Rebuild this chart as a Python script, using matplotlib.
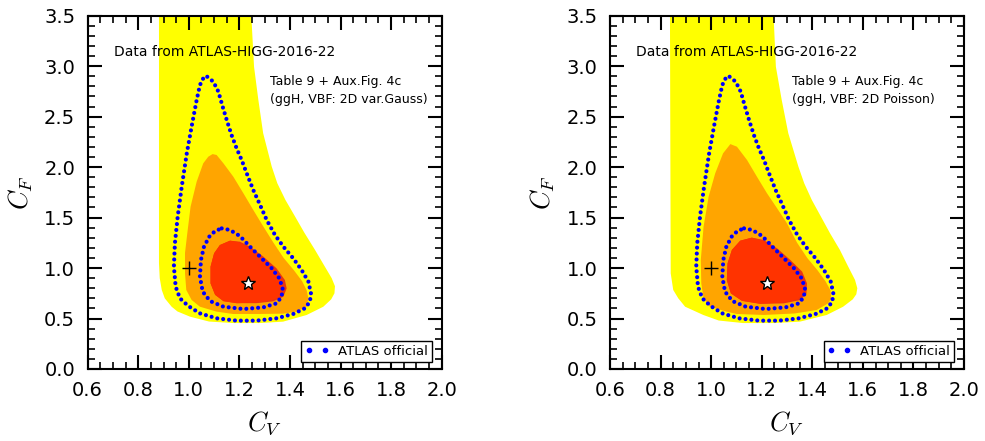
import matplotlib
matplotlib.use("Agg")
import matplotlib.pyplot as plt
from matplotlib.patches import Polygon
from matplotlib.lines import Line2D
from matplotlib.ticker import MultipleLocator

plt.rcParams['mathtext.fontset'] = 'cm'
plt.rcParams['font.family'] = ['DejaVu Sans']

# ---------------- data (CV, CF) ----------------
# ATLAS official contours (same in both panels)
atlas_2s_cv = [1.073, 1.097, 1.117, 1.134, 1.150, 1.169, 1.189, 1.209, 1.229, 1.255, 1.282, 1.308,
               1.341, 1.374, 1.413, 1.446, 1.473, 1.483, 1.479, 1.459, 1.413, 1.347, 1.268, 1.189,
               1.110, 1.044, 0.998, 0.965, 0.948, 0.941, 0.945, 0.956, 0.972, 0.992, 1.011, 1.031,
               1.044, 1.057, 1.073]
atlas_2s_cf = [2.895, 2.846, 2.747, 2.598, 2.466, 2.318, 2.186, 2.070, 1.938, 1.773, 1.624, 1.476,
               1.327, 1.212, 1.096, 0.981, 0.865, 0.749, 0.667, 0.601, 0.545, 0.502, 0.479, 0.479,
               0.502, 0.551, 0.624, 0.700, 0.815, 1.014, 1.245, 1.509, 1.806, 2.136, 2.400, 2.664,
               2.813, 2.879, 2.895]
atlas_1s_cv = [1.130, 1.163, 1.202, 1.242, 1.288, 1.328, 1.358, 1.371, 1.367, 1.347, 1.295, 1.216,
               1.137, 1.084, 1.055, 1.044, 1.048, 1.060, 1.081, 1.104, 1.130]
atlas_1s_cf = [1.393, 1.377, 1.317, 1.212, 1.096, 0.997, 0.898, 0.799, 0.716, 0.650, 0.611, 0.594,
               0.617, 0.673, 0.766, 0.914, 1.080, 1.212, 1.311, 1.367, 1.393]

# Left panel: 2D var.Gauss
gauss_3s_cv = [0.882, 1.245, 1.258, 1.275, 1.294, 1.328, 1.350, 1.382, 1.418, 1.457, 1.499, 1.538,
               1.565, 1.578, 1.576, 1.563, 1.532, 1.466, 1.373, 1.280, 1.176, 1.080, 1.005, 0.955,
               0.932, 0.905, 0.893, 0.885, 0.882]
gauss_3s_cf = [3.6, 3.6, 2.994, 2.666, 2.336, 2.005, 1.840, 1.675, 1.520, 1.350, 1.180, 1.014,
               0.900, 0.820, 0.750, 0.690, 0.617, 0.535, 0.469, 0.455, 0.455, 0.470, 0.518, 0.570,
               0.617, 0.700, 0.783, 0.900, 1.050]
gauss_2s_cv = [1.094, 1.110, 1.137, 1.176, 1.216, 1.255, 1.295, 1.335, 1.375, 1.415, 1.448, 1.466,
               1.473, 1.466, 1.426, 1.373, 1.275, 1.175, 1.110, 1.044, 1.011, 0.990, 0.985, 0.985,
               0.994, 1.007, 1.031, 1.057, 1.077]
gauss_2s_cf = [2.129, 2.120, 2.037, 1.905, 1.740, 1.575, 1.410, 1.250, 1.100, 0.980, 0.870, 0.780,
               0.700, 0.617, 0.568, 0.548, 0.545, 0.545, 0.568, 0.617, 0.684, 0.783, 0.948, 1.150,
               1.344, 1.608, 1.855, 2.037, 2.103]
gauss_1s_edge_cv = [1.163, 1.202, 1.242, 1.295, 1.347, 1.380, 1.387, 1.374, 1.334, 1.268, 1.189,
                    1.137, 1.104, 1.086, 1.086, 1.100, 1.123]
gauss_1s_edge_cf = [1.271, 1.261, 1.212, 1.113, 0.997, 0.881, 0.799, 0.716, 0.670, 0.652, 0.652,
                    0.672, 0.735, 0.848, 1.014, 1.146, 1.228]
gauss_1s_cv = [1.163, 1.198, 1.234, 1.284, 1.333, 1.366, 1.374, 1.363, 1.326, 1.265, 1.189, 1.137,
               1.104, 1.086, 1.086, 1.100, 1.123]
gauss_1s_cf = [1.271, 1.256, 1.206, 1.110, 0.997, 0.883, 0.800, 0.722, 0.679, 0.658, 0.652, 0.672,
               0.735, 0.848, 1.014, 1.146, 1.228]
gauss_best = (1.235, 0.848)

# Right panel: 2D Poisson
pois_3s_cv = [0.837, 1.245, 1.256, 1.279, 1.305, 1.345, 1.368, 1.398, 1.434, 1.470, 1.509, 1.542,
              1.569, 1.578, 1.574, 1.560, 1.522, 1.457, 1.351, 1.250, 1.126, 1.030, 0.969, 0.897,
              0.870, 0.850, 0.840]
pois_3s_cf = [3.6, 3.6, 2.994, 2.666, 2.336, 2.005, 1.840, 1.675, 1.510, 1.345, 1.180, 1.014,
              0.882, 0.800, 0.740, 0.690, 0.617, 0.535, 0.469, 0.455, 0.455, 0.480, 0.535, 0.617,
              0.700, 0.783, 0.948]
pois_2s_cv = [1.076, 1.102, 1.142, 1.181, 1.221, 1.261, 1.300, 1.340, 1.380, 1.420, 1.452, 1.472,
              1.475, 1.463, 1.417, 1.330, 1.208, 1.102, 1.061, 0.995, 0.970, 0.961, 0.959, 0.970,
              0.990, 1.016, 1.047]
pois_2s_cf = [2.228, 2.202, 2.070, 1.905, 1.740, 1.591, 1.443, 1.250, 1.100, 0.980, 0.870, 0.780,
              0.700, 0.650, 0.584, 0.550, 0.535, 0.545, 0.568, 0.617, 0.700, 0.848, 1.080, 1.410,
              1.707, 1.938, 2.136]
pois_1s_edge_cv = [1.161, 1.208, 1.261, 1.313, 1.360, 1.379, 1.377, 1.353, 1.287, 1.194, 1.122,
                   1.078, 1.062, 1.065, 1.082, 1.115]
pois_1s_edge_cf = [1.301, 1.278, 1.195, 1.080, 0.964, 0.848, 0.749, 0.683, 0.650, 0.645, 0.675,
                   0.749, 0.881, 1.047, 1.179, 1.271]
pois_1s_cv = [1.161, 1.203, 1.253, 1.302, 1.347, 1.366, 1.365, 1.343, 1.282, 1.194, 1.122, 1.078,
              1.062, 1.065, 1.082, 1.115]
pois_1s_cf = [1.301, 1.273, 1.190, 1.077, 0.964, 0.850, 0.755, 0.692, 0.658, 0.647, 0.675, 0.749,
              0.881, 1.047, 1.179, 1.271]
pois_best = (1.221, 0.848)

sm_point = (1.0, 1.0)

panels = [
    dict(s3=(gauss_3s_cv, gauss_3s_cf), s2=(gauss_2s_cv, gauss_2s_cf),
         edge=(gauss_1s_edge_cv, gauss_1s_edge_cf), s1=(gauss_1s_cv, gauss_1s_cf),
         best=gauss_best, note="(ggH, VBF: 2D var.Gauss)"),
    dict(s3=(pois_3s_cv, pois_3s_cf), s2=(pois_2s_cv, pois_2s_cf),
         edge=(pois_1s_edge_cv, pois_1s_edge_cf), s1=(pois_1s_cv, pois_1s_cf),
         best=pois_best, note="(ggH, VBF: 2D Poisson)"),
]

YELLOW = '#ffff00'
ORANGE = '#ffa500'
DARKRED = '#ea3510'
RED = '#ff3300'
BLUE = '#0000ff'

fig = plt.figure(figsize=(9.85, 4.41), dpi=100)
lefts = [0.0890, 0.6193]

for left, p in zip(lefts, panels):
    ax = fig.add_axes([left, 0.1633, 0.3594, 0.8011])
    for (cv, cf), col in [(p['s3'], YELLOW), (p['s2'], ORANGE), (p['edge'], DARKRED), (p['s1'], RED)]:
        ax.add_patch(Polygon(list(zip(cv, cf)), closed=True, facecolor=col, edgecolor='none', zorder=1))
    for cv, cf in [(atlas_2s_cv, atlas_2s_cf), (atlas_1s_cv, atlas_1s_cf)]:
        ax.plot(cv, cf, color=BLUE, lw=3.0, ls=(0, (0.001, 1.42)), dash_capstyle='round', zorder=3)
    ax.plot([sm_point[0]], [sm_point[1]], marker='+', color='black', ms=10, mew=1.0, ls='none', zorder=4)
    ax.plot([p['best'][0]], [p['best'][1]], marker='*', mfc='white', mec='black', ms=10, mew=1.0,
            ls='none', zorder=5)

    ax.set_xlim(0.6, 2.0)
    ax.set_ylim(0.0, 3.5)
    ax.xaxis.set_major_locator(MultipleLocator(0.2))
    ax.xaxis.set_minor_locator(MultipleLocator(0.05))
    ax.yaxis.set_major_locator(MultipleLocator(0.5))
    ax.yaxis.set_minor_locator(MultipleLocator(0.1))
    ax.tick_params(which='both', direction='in', top=True, right=True)
    ax.tick_params(which='major', length=10, width=1.5, labelsize=14, pad=9)
    ax.tick_params(which='minor', length=5, width=1.2)
    for s in ax.spines.values():
        s.set_linewidth(1.5)

    ax.set_xlabel(r'$C_V$', fontsize=19, va='center')
    ax.set_ylabel(r'$C_F$', fontsize=19, va='center')
    ax.xaxis.set_label_coords(0.5, -0.153)
    ax.yaxis.set_label_coords(-0.19, 0.5)

    ax.text(0.704, 3.145, 'Data from ATLAS-HIGG-2016-22', fontsize=10, va='center', ha='left')
    ax.text(1.32, 2.847, 'Table 9 + Aux.Fig. 4c', fontsize=9, va='center', ha='left')
    ax.text(1.32, 2.666, p['note'], fontsize=9, va='center', ha='left')

    handle = Line2D([], [], color=BLUE, marker='o', ms=3, ls='none')
    leg = ax.legend([handle], ['ATLAS official'], loc='lower right', bbox_to_anchor=(0.9726, 0.0207),
                    numpoints=2, fontsize=9.5, fancybox=False, framealpha=1, edgecolor='black',
                    borderaxespad=0.0, handlelength=1.8, borderpad=0.3, handletextpad=0.7)
    leg.get_frame().set_linewidth(1.0)

fig.savefig('out.png', dpi=100)
